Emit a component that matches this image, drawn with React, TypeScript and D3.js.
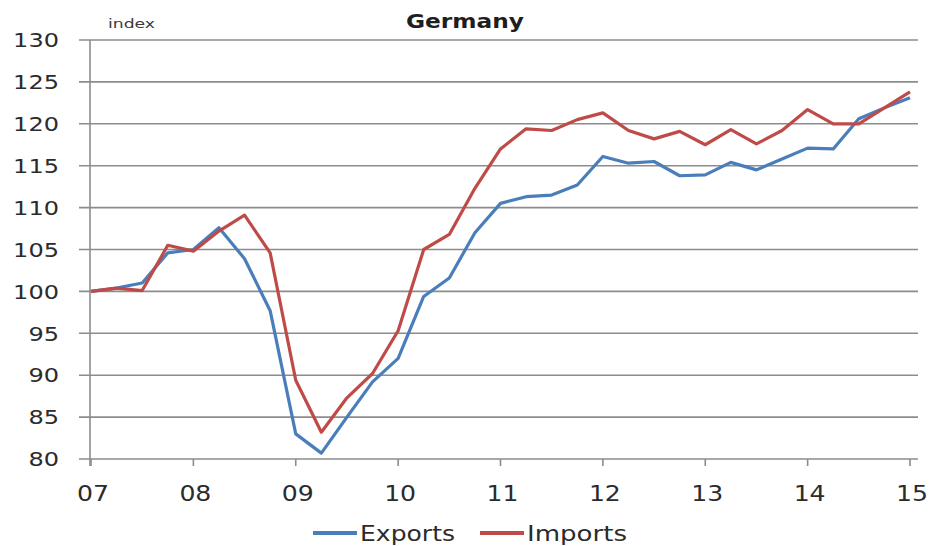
import { useEffect, useRef } from 'react';
import * as d3 from 'd3';

// quarterly index, 2007Q1 = 100
const quarters = d3.range(33).map(i => 2007 + i / 4);
const exportsIdx = [
  100, 100.4, 101, 104.6, 105, 107.6, 103.9, 97.7, 83, 80.7, 85, 89.2,
  92, 99.4, 101.6, 107, 110.5, 111.3, 111.5, 112.7, 116.1, 115.3, 115.5, 113.8,
  113.9, 115.4, 114.5, 115.8, 117.1, 117, 120.6, 121.9, 123.1,
];
const importsIdx = [
  100, 100.4, 100.1, 105.5, 104.8, 107.2, 109.1, 104.6, 89.4, 83.2, 87.3, 90.2,
  95.3, 105, 106.8, 112.3, 117, 119.4, 119.2, 120.5, 121.3, 119.2, 118.2, 119.1,
  117.5, 119.3, 117.6, 119.2, 121.7, 120, 120, 121.9, 123.8,
];
const yearTicks = [2007, 2008, 2009, 2010, 2011, 2012, 2013, 2014, 2015];
const yTicks = [80, 85, 90, 95, 100, 105, 110, 115, 120, 125, 130];
const seriesNames = ['Exports', 'Imports'];
const seriesColors = ['#4a7ebb', '#be4b48'];

export default function App() {
  const svgRef = useRef<SVGSVGElement>(null);
  const width = 929;
  const height = 546;

  useEffect(() => {
    if (!svgRef.current) return;
    const svg = d3.select(svgRef.current);
    svg.selectAll('*').remove();

    const font = '"DejaVu Sans", sans-serif';
    const textColor = '#2b2b2b';
    const x = d3.scaleLinear().domain([2007, 2015]).range([91, 910]);
    const y = d3.scaleLinear().domain([80, 130]).range([459, 40]);

    // gridlines (they stick out left of the axis like tick marks)
    svg.append('g')
      .selectAll('line')
      .data(yTicks)
      .enter().append('line')
      .attr('x1', 79).attr('x2', 918)
      .attr('y1', d => y(d)).attr('y2', d => y(d))
      .attr('stroke', '#8c8c8c')
      .attr('stroke-width', 1.6);

    // y axis line
    svg.append('line')
      .attr('x1', 90).attr('x2', 90)
      .attr('y1', y(130)).attr('y2', y(80) + 7)
      .attr('stroke', '#8c8c8c')
      .attr('stroke-width', 1.6);

    // x ticks
    svg.append('g')
      .selectAll('line')
      .data(yearTicks)
      .enter().append('line')
      .attr('x1', d => x(d)).attr('x2', d => x(d))
      .attr('y1', y(80)).attr('y2', y(80) + 7)
      .attr('stroke', '#8c8c8c')
      .attr('stroke-width', 1.6);

    // y labels (the source font is wide, so stretch a bit)
    svg.append('g')
      .selectAll('text')
      .data(yTicks)
      .enter().append('text')
      .attr('x', 59)
      .attr('y', d => y(d))
      .attr('dy', '0.36em')
      .attr('text-anchor', 'end')
      .attr('textLength', d => String(d).length * 15.3)
      .attr('lengthAdjust', 'spacingAndGlyphs')
      .style('font-family', font)
      .style('font-size', '20px')
      .style('fill', textColor)
      .text(d => d);

    // x labels
    svg.append('g')
      .selectAll('text')
      .data(yearTicks)
      .enter().append('text')
      .attr('x', d => x(d) + 2)
      .attr('y', 501)
      .attr('text-anchor', 'middle')
      .attr('textLength', 32)
      .attr('lengthAdjust', 'spacingAndGlyphs')
      .style('font-family', font)
      .style('font-size', '22px')
      .style('fill', textColor)
      .text(d => String(d % 100).padStart(2, '0'));

    // title + unit
    svg.append('text')
      .attr('x', 465).attr('y', 28)
      .attr('text-anchor', 'middle')
      .attr('textLength', 118)
      .attr('lengthAdjust', 'spacingAndGlyphs')
      .style('font-family', font)
      .style('font-size', '20px')
      .style('font-weight', 'bold')
      .style('fill', '#1e1e1e')
      .text('Germany');
    svg.append('text')
      .attr('x', 108).attr('y', 28)
      .attr('textLength', 47)
      .attr('lengthAdjust', 'spacingAndGlyphs')
      .style('font-family', font)
      .style('font-size', '13px')
      .style('fill', '#3a3a3a')
      .text('index');

    // lines
    const line = d3.line<number>()
      .x((d, i) => x(quarters[i]))
      .y(d => y(d));
    [exportsIdx, importsIdx].forEach((s, k) => {
      svg.append('path')
        .attr('d', line(s) || '')
        .attr('fill', 'none')
        .attr('stroke', seriesColors[k])
        .attr('stroke-width', 3.2)
        .attr('stroke-linejoin', 'round');
    });

    // legend
    const legendX = [313, 480];
    const legendLen = [95, 100];
    seriesNames.forEach((name, k) => {
      const g = svg.append('g').attr('transform', `translate(${legendX[k]}, 533)`);
      g.append('line')
        .attr('x1', 0).attr('x2', 44)
        .attr('y1', 0).attr('y2', 0)
        .attr('stroke', seriesColors[k])
        .attr('stroke-width', 4);
      g.append('text')
        .attr('x', 47).attr('dy', '0.36em')
        .attr('textLength', legendLen[k])
        .attr('lengthAdjust', 'spacingAndGlyphs')
        .style('font-family', font)
        .style('font-size', '22px')
        .style('fill', textColor)
        .text(name);
    });
  }, []);

  return (
    <svg
      ref={svgRef}
      width={width}
      height={height}
      style={{ position: 'absolute', left: 0, top: 0, background: '#fff' }}
    />
  );
}
